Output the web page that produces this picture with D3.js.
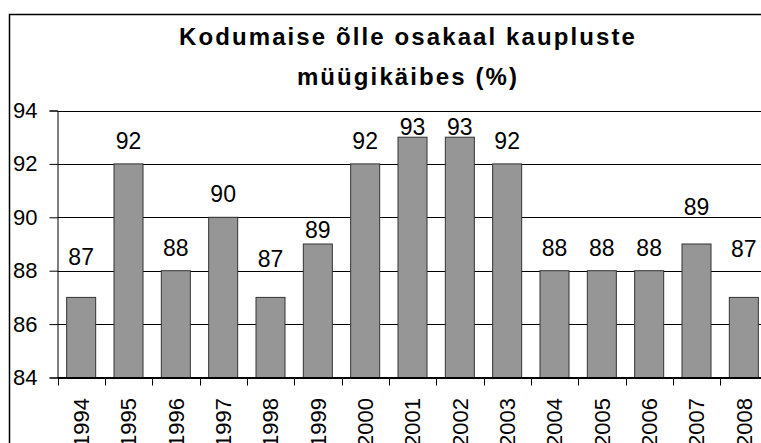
<!DOCTYPE html>
<html>
<head>
<meta charset="utf-8">
<script src="https://cdn.jsdelivr.net/npm/d3@7"></script>
<style>
    body { margin: 0; background: #fff; }
    svg { display: block; font-family: "Liberation Sans", Arial, sans-serif; }
</style>
</head>
<body>
<div id="chart"></div>
<script>
const years = ["1994", "1995", "1996", "1997", "1998", "1999", "2000", "2001",
    "2002", "2003", "2004", "2005", "2006", "2007", "2008"];
const shares = [87, 92, 88, 90, 87, 89, 92, 93, 93, 92, 88, 88, 88, 89, 87];
const yTicks = [84, 86, 88, 90, 92, 94];
const titleLines = ["Kodumaise õlle osakaal kaupluste", "müügikäibes (%)"];

// how far each value label sits above its bar (hand-placed in the original)
const labelLift = [32, 15, 15, 15, 30, 6, 15, 2, 2, 15, 15, 15, 15, 29, 40];

const width = 761;
const height = 443;
const plot = { left: 57.5, right: 767.5, top: 110.5, bottom: 377.5 };

const svg = d3.select("#chart")
    .append("svg")
    .attr("width", width)
    .attr("height", height);

// outer chart frame (runs past the cropped edges)
svg.append("rect")
    .attr("x", 9.5)
    .attr("y", 14.5)
    .attr("width", 820)
    .attr("height", 500)
    .attr("fill", "#fff")
    .attr("stroke", "#000")
    .attr("stroke-width", 1.5);

svg.selectAll(".title")
    .data(titleLines)
    .enter()
    .append("text")
    .attr("class", "title")
    .attr("x", 408)
    .attr("y", function(d, i) { return 45 + i * 40; })
    .attr("text-anchor", "middle")
    .attr("font-size", 24)
    .attr("font-weight", "bold")
    .attr("letter-spacing", 2.1)
    .text(function(d) { return d; });

const x = d3.scaleBand()
    .domain(years)
    .range([plot.left, plot.right])
    .paddingInner(0.387)
    .paddingOuter(0.1935);

const y = d3.scaleLinear()
    .domain([84, 94])
    .range([plot.bottom, plot.top]);

// horizontal gridlines
svg.selectAll(".grid")
    .data(yTicks)
    .enter()
    .append("line")
    .attr("class", "grid")
    .attr("x1", plot.left)
    .attr("x2", plot.right)
    .attr("y1", function(d) { return Math.round(y(d)) + 0.5; })
    .attr("y2", function(d) { return Math.round(y(d)) + 0.5; })
    .attr("stroke", "#000")
    .attr("stroke-width", 1);

svg.selectAll(".bar")
    .data(shares)
    .enter()
    .append("rect")
    .attr("class", "bar")
    .attr("x", function(d, i) { return x(years[i]); })
    .attr("y", function(d) { return y(d); })
    .attr("width", x.bandwidth())
    .attr("height", function(d) { return y(84) - y(d); })
    .attr("fill", "#969696")
    .attr("stroke", "#333")
    .attr("stroke-width", 1);

svg.selectAll(".value")
    .data(shares)
    .enter()
    .append("text")
    .attr("class", "value")
    .attr("x", function(d, i) { return x(years[i]) + x.bandwidth() / 2; })
    .attr("y", function(d, i) { return y(d) - labelLift[i]; })
    .attr("text-anchor", "middle")
    .attr("font-size", 23)
    .text(function(d) { return d; });

// y axis
const yAxis = svg.append("g")
    .attr("transform", "translate(" + plot.left + ",0)")
    .call(d3.axisLeft(y).tickValues(yTicks).tickSize(8).tickPadding(12).tickFormat(d3.format("d")));
yAxis.select(".domain").attr("stroke", "#000");
yAxis.selectAll("text")
    .attr("font-size", 22)
    .attr("font-family", "Liberation Sans, Arial, sans-serif")
    .attr("fill", "#000");

// x axis: ticks between categories, rotated year labels
svg.append("line")
    .attr("x1", plot.left)
    .attr("x2", plot.right)
    .attr("y1", plot.bottom)
    .attr("y2", plot.bottom)
    .attr("stroke", "#000");

const step = x.step();
svg.selectAll(".xtick")
    .data(d3.range(years.length + 1))
    .enter()
    .append("line")
    .attr("class", "xtick")
    .attr("x1", function(i) { return Math.round(plot.left + i * step) + 0.5; })
    .attr("x2", function(i) { return Math.round(plot.left + i * step) + 0.5; })
    .attr("y1", plot.bottom)
    .attr("y2", plot.bottom + 8)
    .attr("stroke", "#000");

svg.selectAll(".year")
    .data(years)
    .enter()
    .append("text")
    .attr("class", "year")
    .attr("transform", function(d) {
        return "translate(" + (x(d) + x.bandwidth() / 2) + "," + 398 + ") rotate(-90)";
    })
    .attr("dy", "0.35em")
    .attr("text-anchor", "end")
    .attr("font-size", 22)
    .text(function(d) { return d; });
</script>
</body>
</html>
